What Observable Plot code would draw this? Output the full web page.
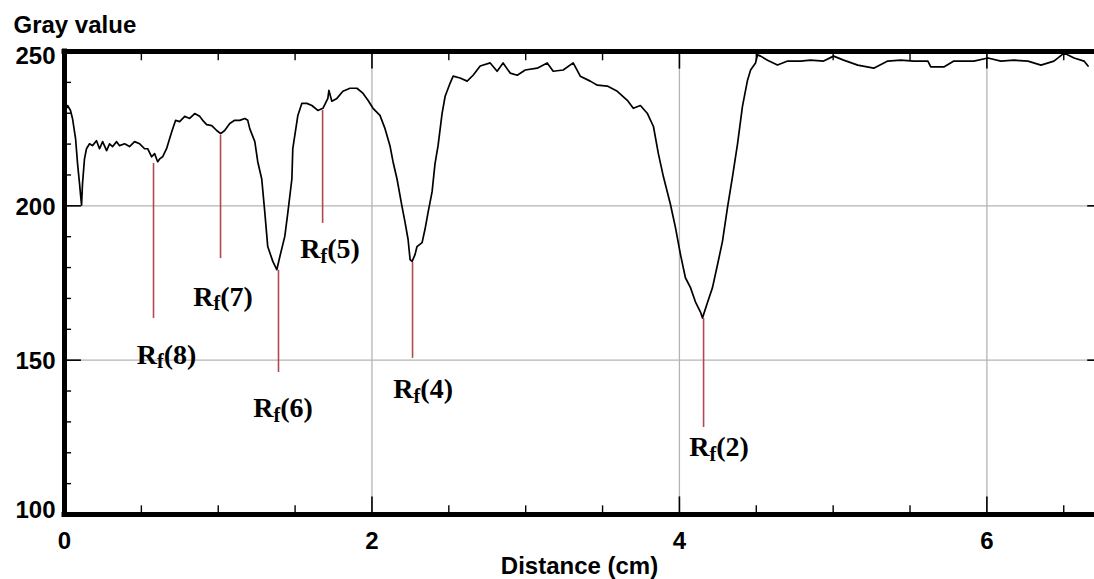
<!DOCTYPE html>
<html><head><meta charset="utf-8">
<script src="https://cdn.jsdelivr.net/npm/d3@7"></script>
<script src="https://cdn.jsdelivr.net/npm/@observablehq/plot@0.6"></script>
<style>body{margin:0;background:#fff}</style>
</head><body><div id="chart"></div>
<script>
// Profile: distance (cm) and gray value
const distance = [
  0, 0.007, 0.02, 0.039, 0.052, 0.072, 0.085, 0.098, 0.104, 0.111,
  0.117, 0.13, 0.143, 0.163, 0.182, 0.208, 0.228, 0.248, 0.274, 0.293,
  0.313, 0.339, 0.358, 0.391, 0.423, 0.456, 0.489, 0.521, 0.541, 0.567,
  0.586, 0.606, 0.619, 0.638, 0.664, 0.684, 0.704, 0.723, 0.749, 0.782,
  0.814, 0.847, 0.879, 0.899, 0.925, 0.958, 0.99, 1.016, 1.042, 1.075,
  1.107, 1.14, 1.173, 1.192, 1.205, 1.238, 1.257, 1.283, 1.303, 1.322,
  1.355, 1.381, 1.401, 1.433, 1.453, 1.479, 1.485, 1.518, 1.544, 1.577,
  1.609, 1.648, 1.681, 1.713, 1.72, 1.739, 1.772, 1.811, 1.857, 1.902,
  1.941, 1.974, 2.007, 2.052, 2.085, 2.117, 2.137, 2.163, 2.195, 2.215,
  2.235, 2.248, 2.261, 2.28, 2.293, 2.326, 2.345, 2.365, 2.391, 2.41,
  2.43, 2.456, 2.476, 2.508, 2.528, 2.573, 2.619, 2.658, 2.704, 2.769,
  2.814, 2.853, 2.899, 2.945, 2.997, 3.075, 3.14, 3.179, 3.244, 3.309,
  3.355, 3.42, 3.466, 3.531, 3.596, 3.661, 3.7, 3.746, 3.792, 3.831,
  3.863, 3.896, 3.941, 3.974, 4.007, 4.039, 4.072, 4.104, 4.137, 4.15,
  4.182, 4.215, 4.248, 4.28, 4.313, 4.345, 4.378, 4.41, 4.443, 4.463,
  4.495, 4.508, 4.528, 4.573, 4.638, 4.704, 4.788, 4.853, 4.938, 5.003,
  5.068, 5.16, 5.264, 5.355, 5.44, 5.524, 5.616, 5.635, 5.72, 5.785,
  5.915, 6.007, 6.091, 6.176, 6.267, 6.352, 6.436, 6.502, 6.567, 6.632, 6.658
];
const gray = [
  226.7, 230.9, 232.5, 230.9, 228.3, 221.8, 213.6, 207.1, 203.8, 200.2,
  207.1, 215.2, 218.5, 220.1, 219.5, 221.1, 218.5, 220.8, 217.9, 220.1,
  219.2, 220.8, 219.5, 220.1, 219.2, 220.8, 220.1, 218.5, 218.5, 215.9,
  216.9, 214.3, 215.2, 215.9, 218.5, 221.8, 225.0, 227.7, 227.3, 229.0,
  228.3, 229.9, 229.0, 227.7, 226.3, 226.0, 224.4, 223.4, 224.4, 226.7,
  227.7, 227.7, 228.3, 227.7, 225.0, 220.8, 214.3, 208.7, 197.9, 186.8,
  182.0, 179.3, 183.6, 190.1, 197.9, 208.7, 218.5, 229.3, 233.2, 233.2,
  232.5, 230.9, 231.6, 234.8, 237.4, 233.9, 234.8, 237.1, 238.1, 238.1,
  236.5, 234.2, 231.6, 229.3, 225.0, 219.5, 214.3, 208.7, 199.9, 194.7,
  189.1, 182.6, 182.0, 184.2, 186.8, 188.1, 192.4, 197.9, 204.5, 213.6,
  219.5, 229.9, 235.5, 239.7, 242.0, 241.4, 240.4, 242.3, 245.3, 246.3,
  243.6, 246.3, 243.0, 242.3, 244.0, 244.6, 246.3, 243.6, 244.0, 246.3,
  242.0, 240.4, 239.1, 238.8, 237.1, 234.2, 231.6, 232.5, 229.9, 225.7,
  216.9, 209.4, 200.6, 193.0, 184.2, 176.7, 173.5, 168.9, 165.6, 163.7,
  168.6, 173.5, 181.0, 188.5, 199.6, 209.4, 220.1, 232.2, 240.7, 244.0,
  246.3, 248.9, 248.5, 247.2, 245.6, 246.9, 246.9, 247.2, 246.9, 248.5,
  247.2, 245.6, 244.6, 246.9, 247.2, 246.9, 246.9, 245.0, 245.0, 246.9,
  246.9, 247.9, 246.9, 247.2, 246.9, 245.6, 246.9, 249.5, 247.9, 246.9, 245.3
];

// Axis ticks and labels
const xTickLabels = [0, 2, 4, 6];
const yTickTop = [250];
const yTickMid = [150, 200];
const yTickBottom = [100];
const xMinorTicks = [0.5, 1, 1.5, 2.5, 3, 3.5, 4.5, 5, 5.5, 6.5];
const yMinorTicks = [110, 120, 130, 140, 160, 170, 180, 190, 210, 220, 230, 240];
const xGrid = [2, 4, 6];
const yGrid = [150, 200];

// Rf peak markers
const peakNames = ["8", "7", "6", "5", "4", "2"];
const peakX = [0.579, 1.015, 1.392, 1.679, 2.264, 4.157];
const peakTop = [213.7, 222.8, 179.1, 230.9, 181.6, 163.5];
const peakBottom = [163.5, 182.9, 146.0, 194.3, 150.6, 128.2];
const labelX = [0.664, 1.031, 1.422, 1.727, 2.333, 4.258];
const labelY = [151.8, 170.6, 134.4, 185.9, 140.5, 121.7];

const profile = distance.map((d, i) => ({d, g: gray[i]})).filter(p => p.g !== undefined);
const peaks = peakNames.map((n, i) => ({
  name: "Rf(" + n + ")", x: peakX[i], top: peakTop[i], bottom: peakBottom[i],
  lx: labelX[i], ly: labelY[i]
}));

const axisText = {tickFormat: d => String(d), tickSize: 0, label: null, fontSize: 24, fontWeight: "bold"};

const chart = Plot.plot({
  width: 1094,
  height: 579,
  marginLeft: 64,
  marginRight: 0,
  marginTop: 51,
  marginBottom: 65,
  style: {fontFamily: "'Liberation Sans', Arial, sans-serif", fontSize: "24px", fontWeight: "bold", background: "#fff", color: "#000"},
  x: {domain: [0, 6.70]},
  y: {domain: [100, 250]},
  marks: [
    Plot.ruleX(xGrid, {stroke: "#b4b4b4", strokeWidth: 1.3}),
    Plot.ruleY(yGrid, {stroke: "#b4b4b4", strokeWidth: 1.3}),
    Plot.ruleX(peaks, {x: "x", y1: "top", y2: "bottom", stroke: "#b04a50", strokeWidth: 1.6}),
    Plot.line(profile, {x: "d", y: "g", stroke: "#000", strokeWidth: 1.7}),
    // inner ticks
    Plot.ruleX(xMinorTicks, {y1: 100, y2: 102.8, stroke: "#000", strokeWidth: 1.4}),
    Plot.ruleX(xMinorTicks, {y1: 250, y2: 247.0, stroke: "#000", strokeWidth: 1.4}),
    Plot.ruleX(xGrid, {y1: 100, y2: 105.7, stroke: "#000", strokeWidth: 1.6}),
    Plot.ruleX(xGrid, {y1: 250, y2: 244.3, stroke: "#000", strokeWidth: 1.6}),
    Plot.ruleY(yMinorTicks, {x1: 0, x2: 0.046, stroke: "#000", strokeWidth: 1.4}),
    Plot.ruleY(yGrid, {x1: 0, x2: 0.11, stroke: "#000", strokeWidth: 1.6}),
    Plot.ruleY(yGrid, {x1: 6.656, x2: 6.70, stroke: "#000", strokeWidth: 1.6}),
    // frame
    Plot.ruleX([0], {stroke: "#000", strokeWidth: 5, strokeLinecap: "square"}),
    Plot.ruleY([100, 250], {stroke: "#000", strokeWidth: 5, strokeLinecap: "square"}),
    // axes
    Plot.axisX({...axisText, ticks: xTickLabels, tickPadding: 17}),
    Plot.axisY({...axisText, ticks: yTickTop, tickPadding: 9, dy: 5}),
    Plot.axisY({...axisText, ticks: yTickMid, tickPadding: 9, dy: 1}),
    Plot.axisY({...axisText, ticks: yTickBottom, tickPadding: 9, dy: -4}),
    Plot.text(["Gray value"], {frameAnchor: "top-left", dx: -51, dy: -26, textAnchor: "start", lineAnchor: "middle", fontSize: 24, fontWeight: "bold"}),
    Plot.text(["Distance (cm)"], {frameAnchor: "bottom", dy: 52, lineAnchor: "middle", fontSize: 24, fontWeight: "bold"}),
    // Rf labels
    Plot.text(peaks, {x: "lx", y: "ly", text: "name", textAnchor: "middle", lineAnchor: "middle",
      fontFamily: "'Liberation Serif', 'Times New Roman', serif", fontSize: 28, fontWeight: "bold", fill: "#000"})
  ]
});

document.getElementById("chart").appendChild(chart);

// subscript the "f" in Rf(n)
chart.querySelectorAll("text").forEach(t => {
  const s = t.textContent;
  const m = /^Rf(\(.*\))$/.exec(s);
  if (!m) return;
  const ns = "http://www.w3.org/2000/svg";
  t.textContent = "R";
  const f = document.createElementNS(ns, "tspan");
  f.setAttribute("font-size", "0.72em");
  f.setAttribute("dy", "0.22em");
  f.textContent = "f";
  const rest = document.createElementNS(ns, "tspan");
  rest.setAttribute("dy", "-0.16em");
  rest.textContent = m[1];
  t.appendChild(f);
  t.appendChild(rest);
});
</script>
</body></html>
